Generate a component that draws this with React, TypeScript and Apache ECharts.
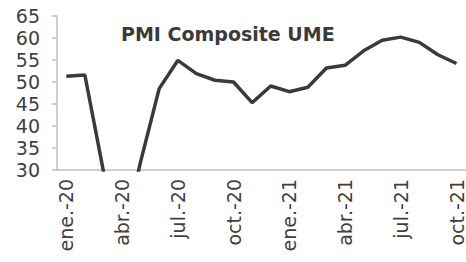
import React, { useEffect, useRef } from "react";
import * as echarts from "echarts";

const categories = [
  "ene.-20", "feb.-20", "mar.-20", "abr.-20", "may.-20", "jun.-20",
  "jul.-20", "ago.-20", "sep.-20", "oct.-20", "nov.-20", "dic.-20",
  "ene.-21", "feb.-21", "mar.-21", "abr.-21", "may.-21", "jun.-21",
  "jul.-21", "ago.-21", "sep.-21", "oct.-21",
];
const pmiValues = [
  51.3, 51.6, 29.7, 13.6, 31.9, 48.5, 54.9, 51.9, 50.4, 50.0, 45.3, 49.1,
  47.8, 48.8, 53.2, 53.8, 57.1, 59.5, 60.2, 59.0, 56.2, 54.2,
];
const yMin = 30;
const yMax = 65;
const yStep = 5;
const titleText = "PMI Composite UME";

export default function App() {
  const ref = useRef<HTMLDivElement>(null);
  useEffect(() => {
    if (!ref.current) return;
    const chart = echarts.init(ref.current, null, { renderer: "svg" });
    const font = "DejaVu Sans";
    chart.setOption({
      animation: false,
      backgroundColor: "#ffffff",
      title: {
        text: titleText,
        left: 116,
        top: 19,
        textStyle: { fontFamily: font, fontWeight: "bold", fontSize: 19, color: "#3a3a3a" },
      },
      grid: { left: 57, right: 0, top: 16, bottom: 92, containLabel: false },
      xAxis: {
        type: "category",
        data: categories,
        boundaryGap: true,
        axisLine: { lineStyle: { color: "#bfbfbf", width: 1.5 } },
        axisTick: { interval: 2, length: 5, lineStyle: { color: "#bfbfbf", width: 1.5 } },
        axisLabel: {
          interval: 2,
          rotate: 90,
          margin: 9,
          fontFamily: font,
          fontSize: 19,
          color: "#404040",
        },
      },
      yAxis: {
        type: "value",
        min: yMin,
        max: yMax,
        interval: yStep,
        splitLine: { show: false },
        axisLine: { show: true, lineStyle: { color: "#bfbfbf", width: 1.5 } },
        axisTick: { show: true, length: 5, lineStyle: { color: "#bfbfbf", width: 1.5 } },
        axisLabel: { margin: 17, fontFamily: font, fontSize: 19, color: "#404040" },
      },
      series: [
        {
          type: "line",
          data: pmiValues,
          symbol: "none",
          clip: true,
          lineStyle: { color: "#3a3a3a", width: 3.5 },
        },
      ],
    });
    return () => chart.dispose();
  }, []);
  return <div ref={ref} style={{ width: 466, height: 262, position: "fixed", left: 0, top: 0 }} />;
}
